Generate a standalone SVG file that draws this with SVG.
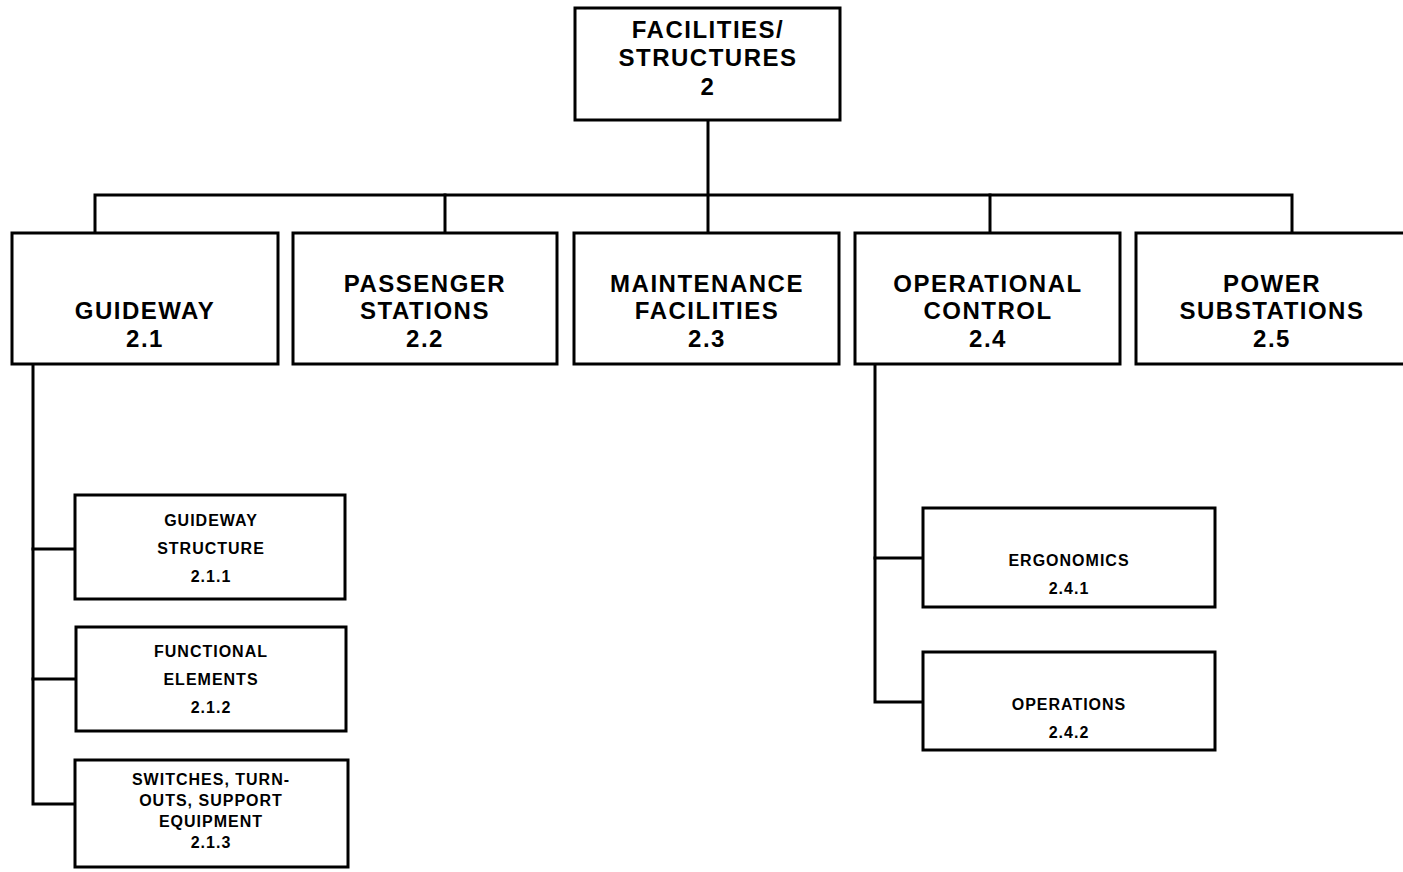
<svg xmlns="http://www.w3.org/2000/svg" width="1403" height="872" viewBox="0 0 1403 872">
<style>
.box{fill:#fff;stroke:#000;stroke-width:3}
.ln{fill:none;stroke:#000;stroke-width:3;stroke-linecap:square}
.big{font-family:"Liberation Sans",Arial,sans-serif;font-weight:bold;font-size:24px;text-anchor:middle;fill:#000;letter-spacing:1.5px}
.sm{font-family:"Liberation Sans",Arial,sans-serif;font-weight:bold;font-size:16px;text-anchor:middle;fill:#000;letter-spacing:1px}
</style>
<rect width="1403" height="872" fill="#fff"/>
<g id="connectors">
<path class="ln" d="M708 120 V232"/>
<path class="ln" d="M95 232 V195 H1292 V232"/>
<path class="ln" d="M445 195 V232"/>
<path class="ln" d="M990 195 V232"/>
<path class="ln" d="M33 365 V804 H75"/>
<path class="ln" d="M33 549 H75"/>
<path class="ln" d="M33 679 H75"/>
<path class="ln" d="M875 365 V702 H922"/>
<path class="ln" d="M875 558 H922"/>
</g>
<g id="n2">
<rect class="box" x="575" y="8" width="265" height="112"/>
<text class="big" x="708" y="38">FACILITIES/</text>
<text class="big" x="708" y="66">STRUCTURES</text>
<text class="big" x="708" y="95">2</text>
</g>
<g id="n21">
<rect class="box" x="12" y="233" width="266" height="131"/>
<text class="big" x="145" y="319">GUIDEWAY</text>
<text class="big" x="145" y="347">2.1</text>
</g>
<g id="n22">
<rect class="box" x="293" y="233" width="264" height="131"/>
<text class="big" x="425" y="292">PASSENGER</text>
<text class="big" x="425" y="319">STATIONS</text>
<text class="big" x="425" y="347">2.2</text>
</g>
<g id="n23">
<rect class="box" x="574" y="233" width="265" height="131"/>
<text class="big" x="707" y="292">MAINTENANCE</text>
<text class="big" x="707" y="319">FACILITIES</text>
<text class="big" x="707" y="347">2.3</text>
</g>
<g id="n24">
<rect class="box" x="855" y="233" width="265" height="131"/>
<text class="big" x="988" y="292">OPERATIONAL</text>
<text class="big" x="988" y="319">CONTROL</text>
<text class="big" x="988" y="347">2.4</text>
</g>
<g id="n25">
<rect class="box" x="1136" y="233" width="270" height="131"/>
<text class="big" x="1272" y="292">POWER</text>
<text class="big" x="1272" y="319">SUBSTATIONS</text>
<text class="big" x="1272" y="347">2.5</text>
</g>
<g id="n211">
<rect class="box" x="75" y="495" width="270" height="104"/>
<text class="sm" x="211" y="526">GUIDEWAY</text>
<text class="sm" x="211" y="554">STRUCTURE</text>
<text class="sm" x="211" y="582">2.1.1</text>
</g>
<g id="n212">
<rect class="box" x="76" y="627" width="270" height="104"/>
<text class="sm" x="211" y="657">FUNCTIONAL</text>
<text class="sm" x="211" y="685">ELEMENTS</text>
<text class="sm" x="211" y="713">2.1.2</text>
</g>
<g id="n213">
<rect class="box" x="75" y="760" width="273" height="107"/>
<text class="sm" x="211" y="785">SWITCHES, TURN-</text>
<text class="sm" x="211" y="806">OUTS, SUPPORT</text>
<text class="sm" x="211" y="827">EQUIPMENT</text>
<text class="sm" x="211" y="848">2.1.3</text>
</g>
<g id="n241">
<rect class="box" x="923" y="508" width="292" height="99"/>
<text class="sm" x="1069" y="566">ERGONOMICS</text>
<text class="sm" x="1069" y="594">2.4.1</text>
</g>
<g id="n242">
<rect class="box" x="923" y="652" width="292" height="98"/>
<text class="sm" x="1069" y="710">OPERATIONS</text>
<text class="sm" x="1069" y="738">2.4.2</text>
</g>
</svg>
